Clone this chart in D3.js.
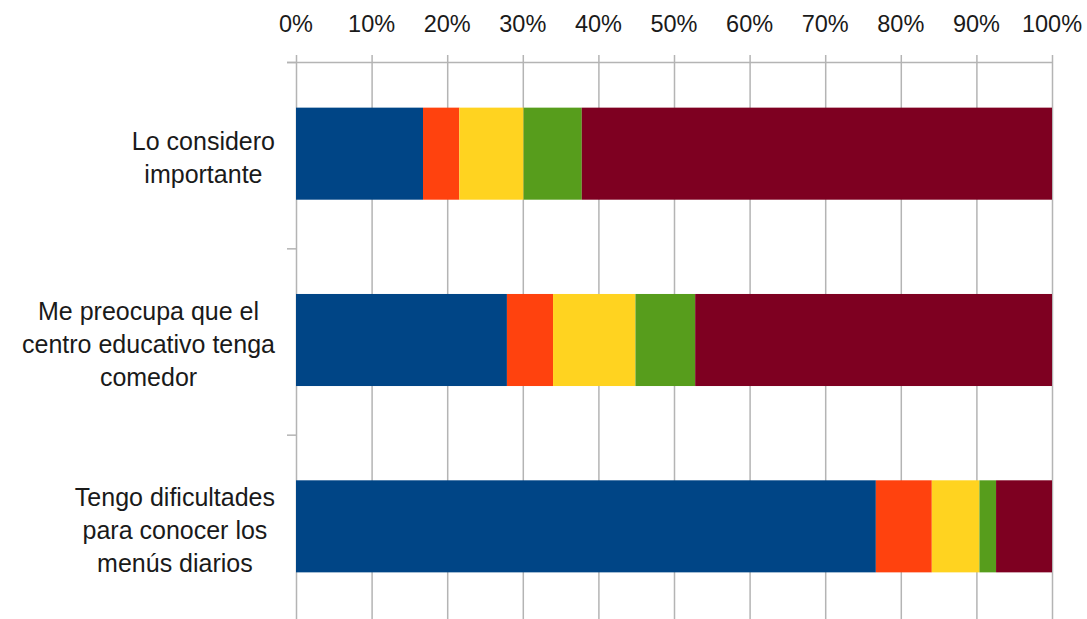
<!DOCTYPE html>
<html>
<head>
<meta charset="utf-8">
<script src="https://cdn.jsdelivr.net/npm/d3@7"></script>
<style>
  html, body { margin: 0; padding: 0; background: #fff; }
  svg { display: block; }
  text { font-family: "Liberation Sans", Arial, sans-serif; fill: #1a1a1a; }
</style>
</head>
<body>
<svg id="chart" width="1087" height="619"></svg>
<script>
const categories = [
  "Lo considero importante",
  "Me preocupa que el centro educativo tenga comedor",
  "Tengo dificultades para conocer los menús diarios"
];
const categoryLines = [
  ["Lo considero", "importante"],
  ["Me preocupa que el", "centro educativo tenga", "comedor"],
  ["Tengo dificultades", "para conocer los", "menús diarios"]
];
const seriesNames = ["Serie 1", "Serie 2", "Serie 3", "Serie 4", "Serie 5"];
const serie1 = [16.8, 27.9, 76.7];
const serie2 = [4.8, 6.1, 7.4];
const serie3 = [8.5, 10.9, 6.3];
const serie4 = [7.7, 7.9, 2.2];
const serie5 = [62.2, 47.2, 7.4];
const tickValues = [0, 10, 20, 30, 40, 50, 60, 70, 80, 90, 100];
const colors = ["#004586", "#ff420e", "#ffd320", "#579d1c", "#7e0021"];

const seriesValues = [serie1, serie2, serie3, serie4, serie5];
const rows = categories.map((c, i) => {
  const r = { cat: c };
  seriesNames.forEach((s, j) => r[s] = seriesValues[j][i]);
  return r;
});
const stacked = d3.stack().keys(seriesNames).offset(d3.stackOffsetExpand)(rows);

const svg = d3.select("#chart");
const plotLeft = 296, plotRight = 1052, plotTop = 62, plotBottom = 621;

const x = d3.scaleLinear().domain([0, 1]).range([plotLeft, plotRight]);
const y = d3.scaleBand().domain(categories).range([plotTop, plotBottom])
  .paddingInner(0.506).paddingOuter(0.253);

// gridlines
svg.append("g").selectAll("line")
  .data(tickValues)
  .join("line")
  .attr("x1", d => x(d / 100) + 0.5).attr("x2", d => x(d / 100) + 0.5)
  .attr("y1", plotTop - 7).attr("y2", plotBottom)
  .attr("stroke", "#b4b4b4").attr("stroke-width", 1.5);

// top axis line
svg.append("line")
  .attr("x1", plotLeft - 9).attr("x2", plotRight + 0.5)
  .attr("y1", plotTop + 0.5).attr("y2", plotTop + 0.5)
  .attr("stroke", "#b4b4b4").attr("stroke-width", 1.5);

// category separator ticks
const step = y.step();
svg.append("g").selectAll("line")
  .data(d3.range(categories.length + 1))
  .join("line")
  .attr("x1", plotLeft - 9).attr("x2", plotLeft)
  .attr("y1", i => plotTop + i * step + 0.5).attr("y2", i => plotTop + i * step + 0.5)
  .attr("stroke", "#b4b4b4").attr("stroke-width", 1.5);

// bars
svg.append("g").selectAll("g")
  .data(stacked)
  .join("g")
  .attr("fill", (d, i) => colors[i])
  .selectAll("rect")
  .data(d => d)
  .join("rect")
  .attr("x", d => x(d[0]))
  .attr("width", d => x(d[1]) - x(d[0]))
  .attr("y", d => y(d.data.cat) - 1.5)
  .attr("height", y.bandwidth());

// x tick labels
svg.append("g").selectAll("text")
  .data(tickValues)
  .join("text")
  .attr("x", d => x(d / 100))
  .attr("y", 32)
  .attr("text-anchor", "middle")
  .style("font-size", "23.5px")
  .text(d => d + "%");

// category labels
const lineH = 33;
categories.forEach((c, i) => {
  const lines = categoryLines[i];
  const g = svg.append("g");
  const cy = y(c) + y.bandwidth() / 2;
  const texts = g.selectAll("text")
    .data(lines)
    .join("text")
    .attr("y", (d, k) => cy + (k - (lines.length - 1) / 2) * lineH + 11)
    .attr("text-anchor", "middle")
    .style("font-size", "25px")
    .text(d => d);
  let maxW = 0;
  texts.each(function () { maxW = Math.max(maxW, this.getComputedTextLength()); });
  texts.attr("x", 275 - maxW / 2);
});
</script>
</body>
</html>
